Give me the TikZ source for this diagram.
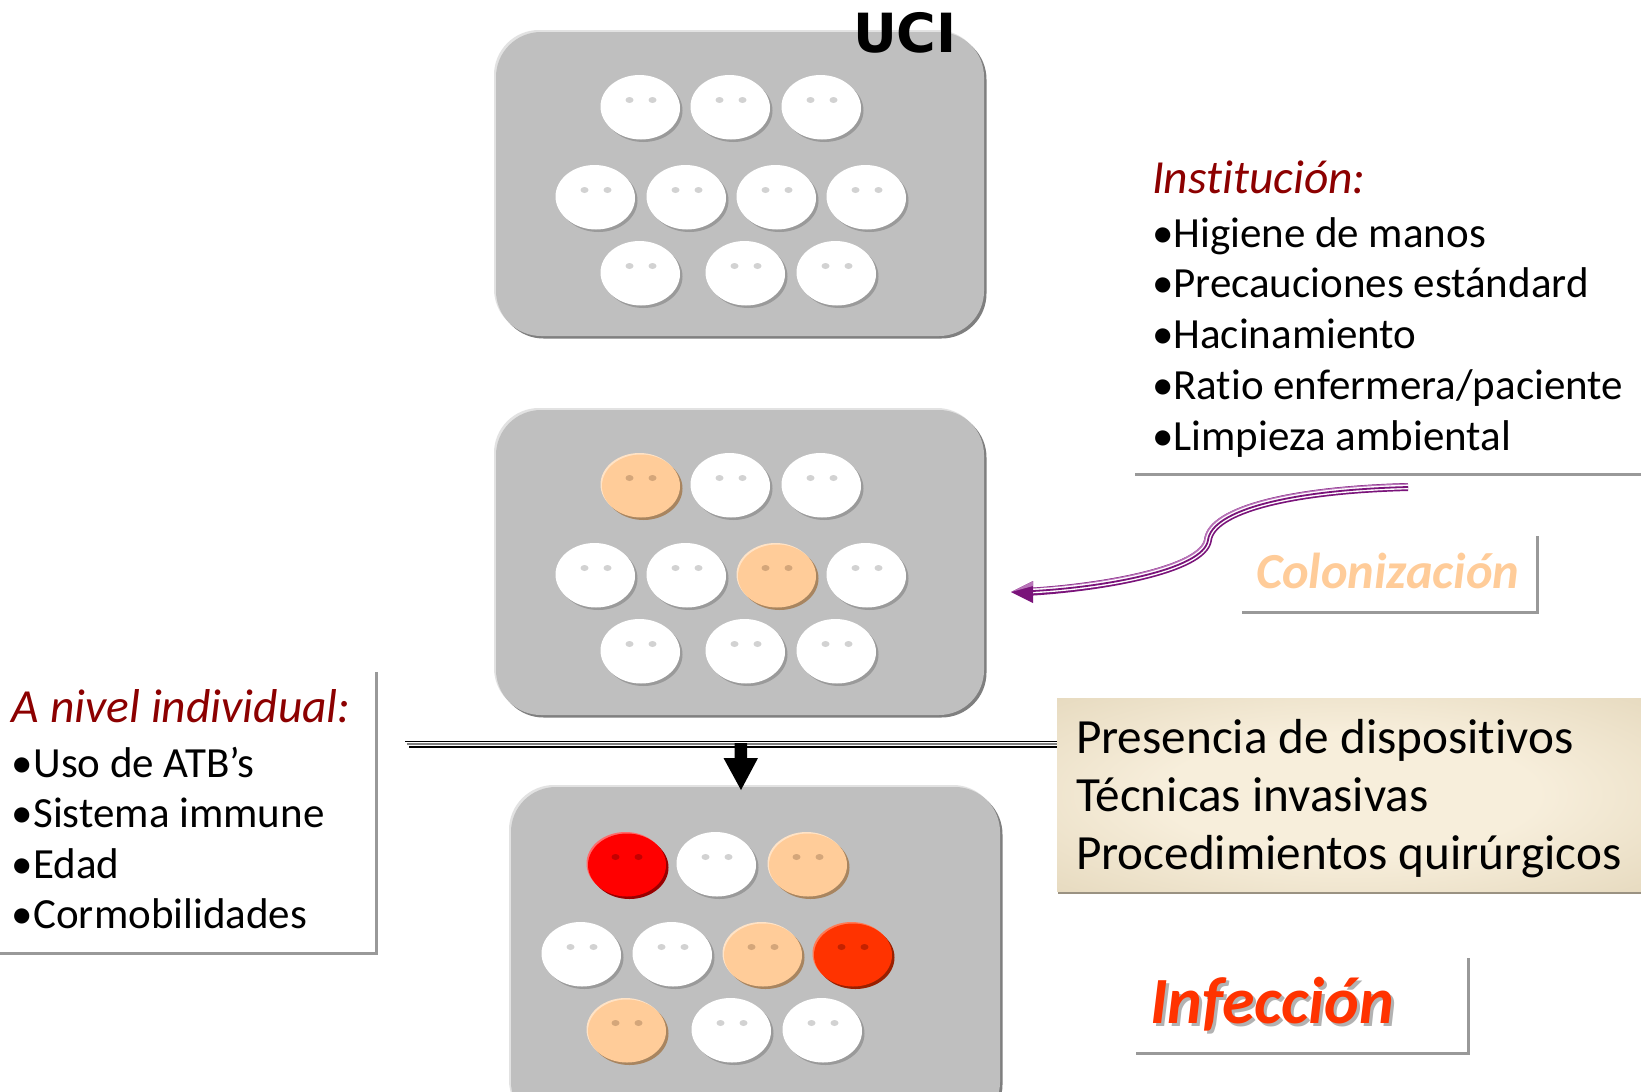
\documentclass[tikz,border=0pt]{standalone}
\usepackage{fontspec}
\setmainfont{Carlito}[Ligatures={NoCommon}, Contextuals={NoAlternate}]
\newfontfamily\ucifont{DejaVu Sans}
\usetikzlibrary{arrows.meta,shadows}

\definecolor{boxgray}{HTML}{BFBFBF}
\definecolor{boxdark}{HTML}{7F7F7F}
\definecolor{boxlight}{HTML}{E2E2E2}
\definecolor{peach}{HTML}{FFCC99}
\definecolor{peachdark}{HTML}{A88560}
\definecolor{peacheye}{HTML}{D4A67A}
\definecolor{peachlight}{HTML}{FFE3C6}
\definecolor{redA}{HTML}{FF0000}
\definecolor{redAdark}{HTML}{990000}
\definecolor{redAeye}{HTML}{C40000}
\definecolor{redAlight}{HTML}{FF6A6A}
\definecolor{redB}{HTML}{FF3300}
\definecolor{redBdark}{HTML}{992000}
\definecolor{redBeye}{HTML}{C42200}
\definecolor{redBlight}{HTML}{FF7A55}
\definecolor{eyegray}{HTML}{D2D2D2}
\definecolor{shadowgray}{HTML}{9A9A9A}
\definecolor{titlered}{HTML}{8C0000}
\definecolor{framegray}{HTML}{999999}
\definecolor{purpleA}{HTML}{7A137A}
\definecolor{purpleB}{HTML}{B873B8}
\definecolor{beigeIn}{HTML}{F7EEDB}
\definecolor{beigeOut}{HTML}{CFBE98}
\colorlet{beigeMid}{beigeOut!70!beigeIn}
\definecolor{beigeShadow}{HTML}{9A9282}
\definecolor{colonCol}{HTML}{FFCC99}
\definecolor{infCol}{HTML}{FF3300}

\pgfdeclareradialshading{beigeshade}{\pgfpoint{0bp}{0bp}}{color(0bp)=(beigeIn); color(16bp)=(beigeIn); color(50bp)=(beigeMid); color(72bp)=(beigeOut)}

% x, y, fill, shadow, highlight, eye
\newcommand\persn[6]{%
  \fill[#4] (#1+2.5,#2+2.5) ellipse [x radius=39, y radius=31.5];
  \fill[#5] (#1-1.5,#2-1.5) ellipse [x radius=39, y radius=31.5];
  \fill[#3] (#1,#2) ellipse [x radius=39, y radius=31.5];
  \fill[#6] (#1-11.5,#2-8) ellipse [x radius=4, y radius=3];
  \fill[#6] (#1+11.5,#2-8) ellipse [x radius=4, y radius=3];
}
\newcommand\personW[2]{\persn{#1}{#2}{white}{shadowgray}{white}{eyegray}}
\newcommand\personP[2]{\persn{#1}{#2}{peach}{peachdark}{peachlight}{peacheye}}
\newcommand\personR[2]{\persn{#1}{#2}{redA}{redAdark}{redAlight}{redAeye}}
\newcommand\personO[2]{\persn{#1}{#2}{redB}{redBdark}{redBlight}{redBeye}}

\tikzset{
  ucibox/.style={fill=boxgray, rounded corners=45pt, inner sep=0pt, outer sep=0pt, anchor=north west,
    general shadow={shadow xshift=-2pt, shadow yshift=2pt, fill=boxlight},
    general shadow={shadow xshift=2.5pt, shadow yshift=-2.5pt, fill=boxdark}},
  framebox/.style={anchor=north west, inner sep=0pt, outer sep=0pt, draw=none},
  frameline/.style={draw=framegray, line width=3pt},
  txt/.style={anchor=base west, inner sep=0pt, outer sep=0pt},
  itemtxt/.style={txt, font=\fontsize{43}{51}\selectfont},
  ttltxt/.style={txt, text=titlered, font=\itshape\fontsize{47.5}{56}\selectfont},
  devtxt/.style={txt, font=\fontsize{49.2}{58}\selectfont},
  purpleouter/.style={draw=purpleA, line width=8pt},
  purplemid/.style={draw=white, line width=4.6pt, shorten >=17pt},
  purpleinner/.style={draw=purpleA, line width=1.8pt, shorten >=17pt},
}

\begin{document}
\begin{tikzpicture}[x=1pt,y=-1pt]
\path[use as bounding box, fill=white] (0,0) rectangle (1641,1092);
\clip (0,0) rectangle (1641,1092);

% ---- ICU boxes ----
\node[ucibox, minimum width=488pt, minimum height=304pt] (box1) at (496,32) {};
\node[ucibox, minimum width=488pt, minimum height=305pt] (box2) at (496,410) {};
\node[ucibox, minimum width=489pt, minimum height=340pt] (box3) at (511,787) {};

\node[txt, font=\ucifont\bfseries\fontsize{54}{60}\selectfont] (uci) at (853,52) {UCI};

% box 1 patients
\personW{641}{108}\personW{731}{108}\personW{822}{108}
\personW{596}{198}\personW{687}{198}\personW{777}{198}\personW{867}{198}
\personW{641}{274}\personW{746}{274}\personW{837}{274}
% box 2 patients
\personP{641}{486}\personW{731}{486}\personW{822}{486}
\personW{596}{576}\personW{687}{576}\personP{777}{576}\personW{867}{576}
\personW{641}{652}\personW{746}{652}\personW{837}{652}
% box 3 patients
\personR{627}{865}\personW{717}{865}\personP{808}{865}
\personW{582}{955}\personW{673}{955}\personP{763}{955}\personO{853}{955}
\personP{627}{1031}\personW{732}{1031}\personW{823}{1031}

% ---- Institucion ----
\node[framebox, minimum width=506pt, minimum height=334pt] (instF) at (1135,140) {};
\draw[frameline] (instF.south west) -- (instF.south east);
\node[ttltxt] (instT) at (1152,193) {Institución:};
\node[itemtxt] (inst1) at (1152,247) {•Higiene de manos};
\node[itemtxt] (inst2) at (1152,297) {•Precauciones estándard};
\node[itemtxt] (inst3) at (1152,348) {•Hacinamiento};
\node[itemtxt] (inst4) at (1152,399) {•Ratio enfermera/paciente};
\node[itemtxt] (inst5) at (1152,450) {•Limpieza ambiental};

% ---- Colonizacion ----
\node[framebox, minimum width=295pt, minimum height=76pt] (colF) at (1242,536) {};
\draw[frameline] (colF.north east) -- (colF.south east) -- (colF.south west);
\node[txt, text=colonCol, font=\bfseries\itshape\fontsize{50.5}{58}\selectfont] (colT) at (1256,588) {Colonización};

\coordinate (colTail) at (1408,487);
\coordinate (colTip) at (1011,592);
\draw[purpleouter] (colTail) .. controls (1290,490) and (1212,510) .. (1208,540) .. controls (1204,570) and (1100,588) .. ([xshift=14pt]colTip);
\draw[draw=purpleB, line width=2pt] ([yshift=2.6pt]colTail) .. controls (1290,487.4) and (1209.5,507.5) .. (1205.5,538) .. controls (1201.5,567.4) and (1100,585.4) .. ([xshift=16pt,yshift=2.6pt]colTip);
\draw[purplemid] (colTail) .. controls (1290,490) and (1212,510) .. (1208,540) .. controls (1204,570) and (1100,588) .. (colTip);
\draw[purpleinner] (colTail) .. controls (1290,490) and (1212,510) .. (1208,540) .. controls (1204,570) and (1100,588) .. (colTip);
\fill[purpleA] (colTip) -- ++(22,-11) -- ++(0,22) -- cycle;
\fill[purpleB] (colTip) -- ++(22,-11) -- ++(0,5) -- cycle;

% ---- horizontal barrier line and down arrow ----
\coordinate (hlL) at (405,744);
\coordinate (hlR) at (1061,744);
\draw[black, line width=1.4pt] ([yshift=2.5pt]hlL) -- ([yshift=2.5pt,xshift=-3pt]hlR);
\draw[gray, line width=1.4pt] ([xshift=2pt]hlL) -- ([xshift=-1pt]hlR);
\draw[black, line width=2pt] ([yshift=-3pt,xshift=4pt]hlL) -- ([yshift=-3pt]hlR);

\coordinate (arrS) at (741,743);
\coordinate (arrE) at (741,790);
\fill[black] ([xshift=-6.5pt]arrS) -- ++(0,15) -- ++(-11,0) -- (arrE) -- ++(17,-32) -- ++(-11,0) -- ++(0,-15) -- cycle;

% ---- devices box ----
\node[anchor=north west, inner sep=0pt, outer sep=0pt, minimum width=586pt, minimum height=193pt,
  shading=beigeshade,
  general shadow={shadow xshift=1pt, shadow yshift=-3pt, fill=beigeShadow}] (devBox) at (1057,698) {};
\node[devtxt] (dev1) at (1076,753) {Presencia de dispositivos};
\node[devtxt] (dev2) at (1076,811) {Técnicas invasivas};
\node[devtxt] (dev3) at (1076,869) {Procedimientos quirúrgicos};

% ---- individual level ----
\node[framebox, minimum width=376pt, minimum height=281pt] (indF) at (0,672) {};
\draw[frameline] (indF.north east) -- (indF.south east) -- (indF.south west);
\node[ttltxt] (indT) at (12,722) {A nivel individual:};
\node[itemtxt] (ind1) at (12,777) {•Uso de ATB’s};
\node[itemtxt] (ind2) at (12,827) {•Sistema immune};
\node[itemtxt] (ind3) at (12,878) {•Edad};
\node[itemtxt] (ind4) at (12,928) {•Cormobilidades};

% ---- infection ----
\node[framebox, minimum width=332pt, minimum height=95pt] (infF) at (1136,958) {};
\draw[frameline] (infF.north east) -- (infF.south east) -- (infF.south west);
\node[txt, text=black!30, font=\bfseries\itshape\fontsize{66}{72}\selectfont] (infS) at (1153,1026) {Infección};
\node[txt, text=infCol, font=\bfseries\itshape\fontsize{66}{72}\selectfont] (infT) at (1150,1023) {Infección};
\end{tikzpicture}
\end{document}
